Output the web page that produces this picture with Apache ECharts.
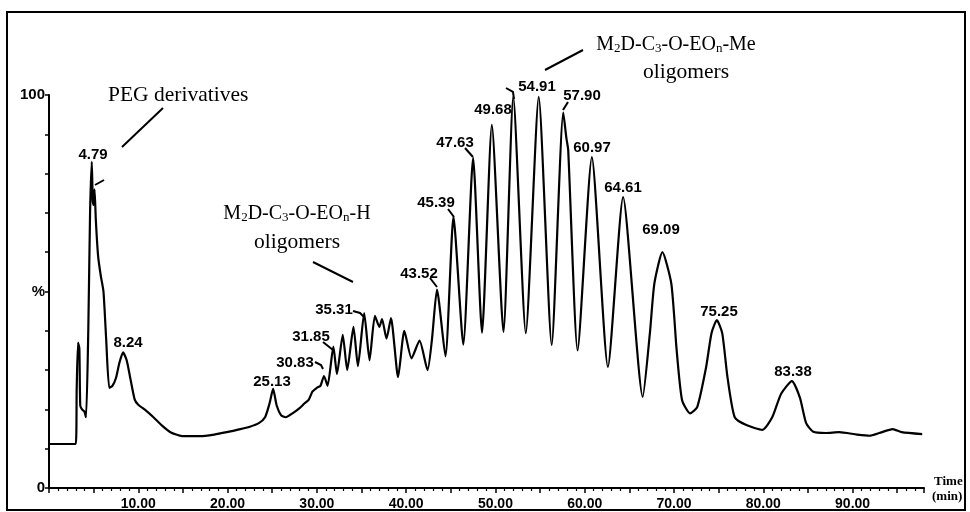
<!DOCTYPE html>
<html>
<head>
<meta charset="utf-8">
<script src="https://cdn.jsdelivr.net/npm/echarts@6/dist/echarts.min.js"></script>
<style>
html,body{margin:0;padding:0;background:#fff;}
#chart{width:970px;height:512px;}
</style>
</head>
<body>
<div id="chart"></div>
<script>
// ---- data ----
const timeMin = [
  0, 3.0, 3.1, 3.25, 3.4, 3.5, 3.7, 3.95, 4.15, 4.4, 4.6, 4.79, 4.9, 5.0, 5.1, 5.25, 5.5, 5.8, 6.1, 6.4,
  6.75, 7.1, 7.5, 7.9, 8.3, 8.7, 9.1, 9.6, 10.0, 10.8, 11.7, 12.6, 13.6, 14.9, 16.9, 18.5, 19.9, 21.3, 22.5, 23.5,
  24.2, 24.7, 25.1, 25.5, 26.0, 26.5, 27.4, 28.1, 28.6, 29.1, 29.5, 30.0, 30.4, 30.8, 31.2, 31.85, 32.25, 32.9, 33.4, 34.1,
  34.6, 35.3, 35.9, 36.5, 37.0, 37.3, 37.8, 38.3, 39.1, 39.8, 40.6, 41.5, 42.4, 42.9, 43.45, 44.4, 45.3, 46.4, 47.5, 48.5,
  49.6, 50.9, 52.0, 53.4, 54.85, 56.3, 57.6, 57.95, 58.15, 59.2, 60.8, 62.6, 64.3, 66.5, 67.3, 67.8, 68.7, 69.7, 70.3, 70.9,
  71.8, 72.6, 73.6, 74.2, 74.8, 75.4, 76.0, 76.8, 78.1, 79.9, 81.0, 82.0, 83.2, 84.1, 84.8, 85.6, 87.0, 88.5, 90.5, 91.9,
  93.0, 94.5, 95.5, 97.8
];
const intensityPct = [
  11.2, 11.2, 25, 37, 35.5, 21, 20, 19.5, 18, 40, 70, 83, 73, 72, 76, 68, 59, 54, 50, 38,
  25.5, 26, 28, 32, 34.5, 32.5, 28, 22.5, 21.2, 19.8, 18, 16, 14.2, 13.2, 13.2, 13.6, 14.2, 14.9, 15.6, 16.5,
  18, 21.5, 25.2, 21, 18.5, 18, 19.2, 20.4, 21.5, 22.5, 24.5, 25.5, 26, 28.5, 26, 36, 29, 39, 30, 41,
  31, 44.5, 32.5, 43.8, 41, 43, 38, 43.2, 28.2, 40, 33, 37.5, 30, 38, 50.5, 33.5, 69, 36.5, 84, 39.5,
  92.4, 39.7, 99.5, 39.4, 99.5, 36.4, 95.5, 89, 86, 35, 84.2, 30.8, 74, 23.2, 39.4, 52, 60, 52, 35, 22.4,
  19, 20.6, 30.8, 39.4, 42.7, 39.4, 28, 18, 16, 14.8, 18, 24, 27.2, 23, 16.5, 14.3, 14, 14.2, 13.6, 13.3,
  14, 15, 14.2, 13.7
];
const peakLabels = ['4.79','8.24','25.13','30.83','31.85','35.31','43.52','45.39','47.63','49.68','54.91','57.90','60.97','64.61','69.09','75.25','83.38'];
const yTickLabels = {0:'0', 50:'%', 100:'100'};
const pegText = 'PEG derivatives';
const oligoText = 'oligomers';
const endH = '-H';
const endMe = '-Me';

// ---- layout (pixels) ----
const peakLabelPos = [
  [93,155],[128,343],[272,382],[295,363],[311,337],[334,310],[419,274],[436,203],[455,143],[493,110],
  [537,87],[582,96],[592,148],[623,188],[661,230],[719,312],[793,372]
];
const leaders = [
  [[122,147],[163,108]],
  [[313,262],[353,282]],
  [[545,70],[583,50]],
  [[95,185],[104,180]],
  [[315,362],[321,365],[323,369]],
  [[323,342],[333,350]],
  [[353,311],[360,313],[364,317]],
  [[430,278],[437,287]],
  [[448,209],[454,217]],
  [[465,148],[473,157]],
  [[506,88],[513,92],[514,99]],
  [[568,102],[563,110]]
];

const data = timeMin.map((t,i)=>[t, intensityPct[i]]);
const numFont = 'bold 15px "Liberation Sans", Arial, sans-serif';
const serif = '"Liberation Serif", "Times New Roman", serif';

const graphics = [];
graphics.push({type:'rect', shape:{x:7, y:12, width:958, height:498}, style:{fill:'none', stroke:'#000', lineWidth:2}, silent:true});
peakLabels.forEach((txt,i)=>{
  graphics.push({type:'text', x:peakLabelPos[i][0], y:peakLabelPos[i][1],
    style:{text:txt, font:numFont, fill:'#000', textAlign:'center', textVerticalAlign:'middle', align:'center', verticalAlign:'middle'}});
});
leaders.forEach(pts=>{
  graphics.push({type:'polyline', shape:{points:pts}, style:{stroke:'#000', lineWidth:2, fill:'none'}, silent:true});
});
function serifText(x,y,txt,size,weight,al){
  return {type:'text', x:x, y:y, style:{text:txt, font:(weight||'normal')+' '+size+'px '+serif, fill:'#000',
    textAlign:al||'left', textVerticalAlign:'middle', align:al||'left', verticalAlign:'middle'}};
}
graphics.push(serifText(108,95,pegText,21.5));
function chemText(x,y,end){
  return {type:'text', x:x, y:y, style:{
    text:'{n|M}{s|2}{n|D-C}{s|3}{n|-O-EO}{s|n}{n|'+end+'}',
    rich:{
      n:{font:'normal 20px '+serif, fill:'#000', lineHeight:24},
      s:{font:'normal 13px '+serif, fill:'#000', lineHeight:24, padding:[8,0,0,0]}
    },
    textAlign:'center', textVerticalAlign:'middle', align:'center', verticalAlign:'middle'}};
}
graphics.push(chemText(297,214,endH));
graphics.push(serifText(297,242,oligoText,21.5,'normal','center'));
graphics.push(chemText(676,45,endMe));
graphics.push(serifText(686,72,oligoText,21.5,'normal','center'));
graphics.push(serifText(934,482,'Time',13,'bold'));
graphics.push(serifText(932,497,'(min)',13,'bold'));

const chart = echarts.init(document.getElementById('chart'), null, {renderer:'canvas'});
chart.setOption({
  animation:false,
  backgroundColor:'#fff',
  grid:{left:49, right:46, top:95, bottom:24, containLabel:false},
  xAxis:{
    type:'value', min:0, max:98, interval:5,
    axisLine:{show:true, onZero:false, lineStyle:{color:'#000', width:2}},
    axisTick:{show:true, inside:false, length:5, lineStyle:{color:'#000', width:1.5}},
    minorTick:{show:true, splitNumber:5, length:3, lineStyle:{color:'#000', width:1.2}},
    splitLine:{show:false}, minorSplitLine:{show:false},
    axisLabel:{show:true, margin:9, color:'#000', fontSize:14, fontWeight:'bold', fontFamily:'"Liberation Sans", Arial, sans-serif',
      showMaxLabel:false, showMinLabel:false,
      formatter:v=> (v>0 && Math.abs(v%10)<1e-9) ? v.toFixed(2) : ''}
  },
  yAxis:{
    type:'value', min:0, max:100, interval:10,
    axisLine:{show:true, onZero:false, lineStyle:{color:'#000', width:2}},
    axisTick:{show:true, inside:false, length:4, lineStyle:{color:'#000', width:1.5}},
    splitLine:{show:false},
    axisLabel:{show:true, margin:4, color:'#000', fontSize:15, fontWeight:'bold', fontFamily:'"Liberation Sans", Arial, sans-serif',
      formatter:v=> (yTickLabels[v]!==undefined ? yTickLabels[v] : '')}
  },
  series:[{
    type:'line', data:data, showSymbol:false, symbol:'none', smooth:0.2, clip:false,
    lineStyle:{color:'#000', width:2.2}
  }],
  graphic:graphics
});
</script>
</body>
</html>
